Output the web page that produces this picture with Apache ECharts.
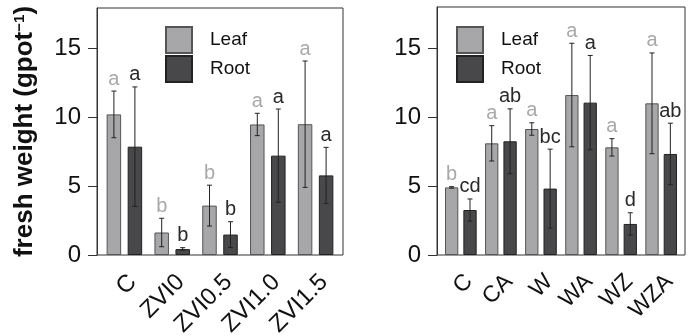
<!DOCTYPE html>
<html>
<head>
<meta charset="utf-8">
<script src="https://cdn.jsdelivr.net/npm/echarts@6/dist/echarts.min.js"></script>
<style>
html, body { margin: 0; padding: 0; background: #fff; }
#chart { width: 688px; height: 336px; }
</style>
</head>
<body>
<div id="chart"></div>
<script>
// left panel: ZVI treatments
var leftCats = ['C', 'ZVI0', 'ZVI0.5', 'ZVI1.0', 'ZVI1.5'];
var leftLeaf = [10.19, 1.63, 3.58, 9.46, 9.48];
var leftLeafErr = [1.69, 1.03, 1.48, 0.81, 4.58];
var leftRoot = [7.85, 0.43, 1.48, 7.2, 5.77];
var leftRootErr = [4.33, 0.1, 0.93, 3.38, 2.03];
var leftLeafSig = ['a', 'b', 'b', 'a', 'a'];
var leftRootSig = ['a', 'b', 'b', 'a', 'a'];

// right panel: W / Z / A treatments
var rightCats = ['C', 'CA', 'W', 'WA', 'WZ', 'WZA'];
var rightLeaf = [4.9, 8.09, 9.13, 11.59, 7.8, 10.99];
var rightLeafErr = [0.05, 1.28, 0.45, 3.75, 0.63, 3.65];
var rightRoot = [3.26, 8.24, 4.81, 11.04, 2.25, 7.32];
var rightRootErr = [0.8, 2.35, 2.86, 3.42, 0.81, 2.23];
var rightLeafSig = ['b', 'a', 'a', 'a', 'a', 'a'];
var rightRootSig = ['cd', 'ab', 'bc', 'a', 'd', 'ab'];

var yTicks = [0, 5, 10, 15];

var FONT = '"Liberation Sans", Arial, Helvetica, sans-serif';
var LEAF = '#a7a7a9', LEAF_BORDER = '#555';
var ROOT = '#48484a', ROOT_BORDER = '#222';
var LEAF_TEXT = '#a9a9a9', ROOT_TEXT = '#2a2a2a';

function toErr(vals, errs) {
	return vals.map(function (v, i) { return [i, v, errs[i]]; });
}

// error bar + significance letter, shifted onto the leaf/root bar
function errRender(shift, letters, letterColor) {
	return function (params, api) {
		var idx = api.value(0), v = api.value(1), e = api.value(2);
		var hi = api.coord([idx, v + e]);
		var lo = api.coord([idx, v - e]);
		var x = hi[0] + shift;
		var cap = 2.5;
		var ls = { stroke: '#222', lineWidth: 1 };
		return {
			type: 'group',
			children: [
				{ type: 'line', shape: { x1: x, y1: hi[1], x2: x, y2: lo[1] }, style: ls },
				{ type: 'line', shape: { x1: x - cap, y1: hi[1], x2: x + cap, y2: hi[1] }, style: ls },
				{ type: 'line', shape: { x1: x - cap, y1: lo[1], x2: x + cap, y2: lo[1] }, style: ls },
				{
					type: 'text', x: x, y: hi[1] - 2,
					style: {
						text: letters[params.dataIndex], fill: letterColor,
						fontSize: 20, fontFamily: FONT,
						align: 'center', verticalAlign: 'bottom'
					}
				}
			]
		};
	};
}

function frameY() {
	return {
		type: 'value', min: 0, max: 17.9,
		axisLine: { show: true, lineStyle: { color: '#333', width: 1 } },
		axisTick: { show: true, length: 9, customValues: yTicks, lineStyle: { color: '#333' } },
		axisLabel: { customValues: yTicks, fontSize: 24, color: '#111', margin: 16, fontFamily: FONT },
		splitLine: { show: false }
	};
}

var option = {
	animation: false,
	textStyle: { fontFamily: FONT },
	grid: [
		{ left: 97, top: 8, width: 246, height: 247, outerBoundsMode: 'none', show: true, borderColor: '#333', borderWidth: 1, backgroundColor: 'transparent' },
		{ left: 100.5, top: 8, width: 239, height: 247, outerBoundsMode: 'none' },
		{ left: 437, top: 7, width: 248, height: 248, outerBoundsMode: 'none', show: true, borderColor: '#333', borderWidth: 1, backgroundColor: 'transparent' },
		{ left: 440.8, top: 7, width: 240.4, height: 248, outerBoundsMode: 'none' }
	],
	legend: [
		{
			data: ['Leaf', 'Root'], orient: 'vertical', left: 165, top: 26, padding: 0,
			itemWidth: 26, itemHeight: 26, itemGap: 1, icon: 'rect', selectedMode: false,
			textStyle: { fontSize: 19, color: '#111', padding: [0, 0, 0, 13] }
		},
		{
			data: ['Leaf', 'Root'], orient: 'vertical', left: 456, top: 26, padding: 0,
			itemWidth: 26, itemHeight: 26, itemGap: 1, icon: 'rect', selectedMode: false,
			textStyle: { fontSize: 19, color: '#111', padding: [0, 0, 0, 13] }
		}
	],
	xAxis: [
		{ gridIndex: 0, type: 'value', min: 0, max: 1, show: false },
		{
			gridIndex: 1, type: 'category', data: leftCats,
			axisLine: { show: false }, axisTick: { show: false },
			axisLabel: { interval: 0, rotate: 45, align: 'right', verticalAlign: 'top', margin: 15, fontSize: 24, color: '#111' }
		},
		{ gridIndex: 2, type: 'value', min: 0, max: 1, show: false },
		{
			gridIndex: 3, type: 'category', data: rightCats,
			axisLine: { show: false }, axisTick: { show: false },
			axisLabel: { interval: 0, rotate: 45, align: 'right', verticalAlign: 'top', margin: 15, fontSize: 23, color: '#111' }
		}
	],
	yAxis: [
		Object.assign(frameY(), {
			gridIndex: 0,
			name: '{t|fresh weight (gpot}{s|\u22121}{t|)}',
			nameLocation: 'middle', nameGap: 59,
			nameTextStyle: {
				rich: {
					t: { fontSize: 26, fontWeight: 'bold', color: '#111', fontFamily: FONT },
					s: { fontSize: 15, fontWeight: 'bold', color: '#111', fontFamily: FONT, verticalAlign: 'top' }
				}
			}
		}),
		{ gridIndex: 1, type: 'value', min: 0, max: 17.9, show: false },
		Object.assign(frameY(), { gridIndex: 2, max: 17.97 }),
		{ gridIndex: 3, type: 'value', min: 0, max: 17.97, show: false }
	],
	series: [
		{
			name: 'Leaf', type: 'bar', xAxisIndex: 1, yAxisIndex: 1, data: leftLeaf,
			barWidth: 14.5, barGap: '45%',
			itemStyle: { color: LEAF, borderColor: LEAF_BORDER, borderWidth: 1 }
		},
		{
			name: 'Root', type: 'bar', xAxisIndex: 1, yAxisIndex: 1, data: leftRoot,
			barWidth: 14.5, barGap: '45%',
			itemStyle: { color: ROOT, borderColor: ROOT_BORDER, borderWidth: 1 }
		},
		{
			type: 'custom', xAxisIndex: 1, yAxisIndex: 1, z: 5, clip: false,
			data: toErr(leftLeaf, leftLeafErr), encode: { x: 0, y: 1 },
			renderItem: errRender(-10.5, leftLeafSig, LEAF_TEXT)
		},
		{
			type: 'custom', xAxisIndex: 1, yAxisIndex: 1, z: 5, clip: false,
			data: toErr(leftRoot, leftRootErr), encode: { x: 0, y: 1 },
			renderItem: errRender(10.5, leftRootSig, ROOT_TEXT)
		},
		{
			name: 'Leaf', type: 'bar', xAxisIndex: 3, yAxisIndex: 3, data: rightLeaf,
			barWidth: 13.3, barGap: '38%',
			itemStyle: { color: LEAF, borderColor: LEAF_BORDER, borderWidth: 1 }
		},
		{
			name: 'Root', type: 'bar', xAxisIndex: 3, yAxisIndex: 3, data: rightRoot,
			barWidth: 13.3, barGap: '38%',
			itemStyle: { color: ROOT, borderColor: ROOT_BORDER, borderWidth: 1 }
		},
		{
			type: 'custom', xAxisIndex: 3, yAxisIndex: 3, z: 5, clip: false,
			data: toErr(rightLeaf, rightLeafErr), encode: { x: 0, y: 1 },
			renderItem: errRender(-9.18, rightLeafSig, LEAF_TEXT)
		},
		{
			type: 'custom', xAxisIndex: 3, yAxisIndex: 3, z: 5, clip: false,
			data: toErr(rightRoot, rightRootErr), encode: { x: 0, y: 1 },
			renderItem: errRender(9.18, rightRootSig, ROOT_TEXT)
		}
	]
};

var myChart = echarts.init(document.getElementById('chart'));
myChart.setOption(option);
</script>
</body>
</html>
